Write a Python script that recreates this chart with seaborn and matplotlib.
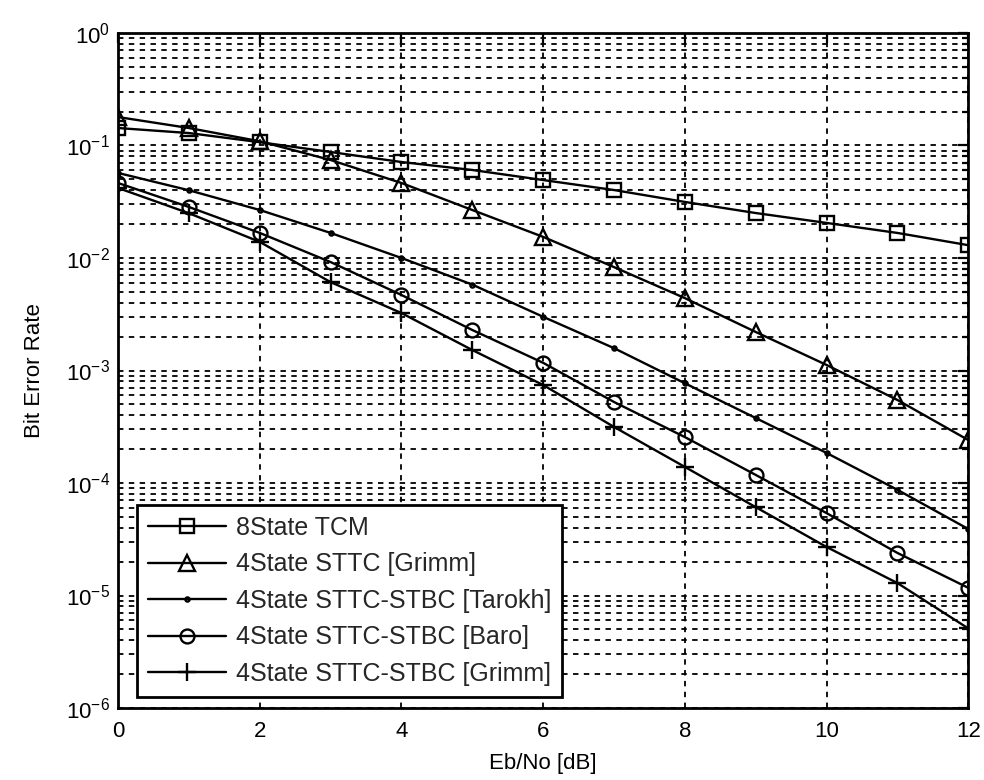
import matplotlib
matplotlib.use("Agg")
import matplotlib.pyplot as plt
import seaborn as sns
import numpy as np
import pandas as pd
from matplotlib.ticker import FixedLocator, NullFormatter

sns.set_style("white")
plt.rcParams['font.family'] = ['Liberation Sans', 'DejaVu Sans']

ebno = [0, 1, 2, 3, 4, 5, 6, 7, 8, 9, 10, 11, 12]
tcm8 = [0.143, 0.129, 0.107, 0.0875, 0.0713, 0.0606, 0.0493, 0.0402, 0.0315, 0.0251, 0.0205, 0.0167, 0.0130]
sttc_grimm = [0.179, 0.143, 0.109, 0.0743, 0.0464, 0.0267, 0.0154, 0.0083, 0.0044, 0.0022, 0.00112, 0.000547, 0.000241]
tarokh = [0.057, 0.040, 0.0267, 0.0167, 0.0100, 0.0058, 0.0030, 0.00158, 0.00077, 0.000378, 0.000185, 0.000087, 0.000039]
baro = [0.0464, 0.0284, 0.0167, 0.0092, 0.00469, 0.00229, 0.00117, 0.000525, 0.000256, 0.000118, 0.000054, 0.0000239, 0.0000117]
stbc_grimm = [0.0419, 0.025, 0.0139, 0.0061, 0.00324, 0.00152, 0.000743, 0.000315, 0.000139, 0.000061, 0.000027, 0.0000129, 0.0000051]

labels = ["8State TCM", "4State STTC [Grimm]", "4State STTC-STBC [Tarokh]",
          "4State STTC-STBC [Baro]", "4State STTC-STBC [Grimm]"]
series = [tcm8, sttc_grimm, tarokh, baro, stbc_grimm]
markers = ['s', '^', '.', 'o', '+']
msizes = [10, 11, 6, 10, 13]
x_ticks = [0, 2, 4, 6, 8, 10, 12]
y_decades = [1e-6, 1e-5, 1e-4, 1e-3, 1e-2, 1e-1, 1e0]

fig = plt.figure(figsize=(9.84, 7.80), dpi=100)
ax = fig.add_axes([0.12, 0.0923, 0.864, 0.8654])

for lab, ys, m, ms in zip(labels, series, markers, msizes):
    sns.lineplot(x=ebno, y=ys, ax=ax, label=lab, color='black', linewidth=1.7,
                 marker=m, markersize=ms, markerfacecolor='none',
                 markeredgecolor='black', markeredgewidth=1.7)

ax.set_yscale('log')
ax.set_xlim(0, 12)
ax.set_ylim(1e-6, 1e0)
ax.set_xticks(x_ticks)
ax.set_yticks(y_decades)
minor = [d * k for d in y_decades[:-1] for k in range(2, 10)]
ax.yaxis.set_minor_locator(FixedLocator(minor))
ax.yaxis.set_minor_formatter(NullFormatter())

ax.grid(True, which='major', axis='both', color='black', linestyle=(0, (3, 3)), linewidth=1.3)
ax.grid(True, which='minor', axis='y', color='black', linestyle=(0, (3, 3)), linewidth=1.3)

for sp in ax.spines.values():
    sp.set_color('black')
    sp.set_linewidth(2.0)
    sp.set_visible(True)

ax.tick_params(which='both', direction='in', top=True, right=True, colors='black',
               labelsize=16, width=1.6)
ax.tick_params(which='major', length=7)
ax.tick_params(which='minor', length=4)
ax.tick_params(axis='x', pad=9)
ax.tick_params(axis='y', pad=6)

ax.set_xlabel("Eb/No [dB]", fontsize=16, color='black', labelpad=8)
ax.set_ylabel("Bit Error Rate", fontsize=16, color='black', labelpad=15)

leg = ax.legend(loc='lower left', bbox_to_anchor=(0.0224, 0.0163), borderaxespad=0,
                fontsize=18, frameon=True, fancybox=False, shadow=False, framealpha=1,
                edgecolor='black', handlelength=3.1, handletextpad=0.4,
                borderpad=0.45, labelspacing=0.5)
leg.get_frame().set_linewidth(2.0)

fig.savefig("out.png", dpi=100)
